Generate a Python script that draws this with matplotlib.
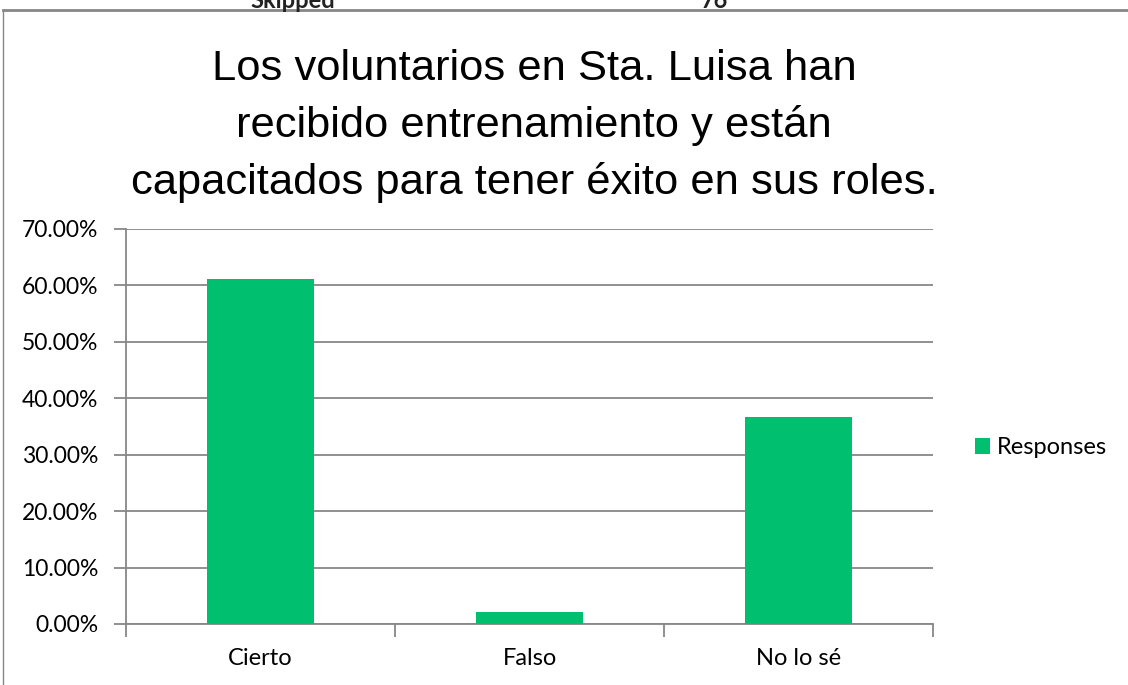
import matplotlib.pyplot as plt
from matplotlib.lines import Line2D
from matplotlib.ticker import FuncFormatter

categories = ['Cierto', 'Falso', 'No lo sé']
responses = [61.1, 2.2, 36.6]
yticks = [0, 10, 20, 30, 40, 50, 60, 70]

green = '#00c06f'
grey = '#878787'

fig = plt.figure(figsize=(11.28, 6.85), dpi=100)
ax = fig.add_axes([0.1117, 0.0891, 0.7155, 0.5766])

x = list(range(len(categories)))
ax.bar(x, responses, width=0.4, color=green, label='Responses', zorder=3)

ax.set_xlim(-0.5, len(categories) - 0.5)
ax.set_ylim(0, 70)
ax.set_yticks(yticks)
ax.yaxis.set_major_formatter(FuncFormatter(lambda v, p: f'{v:.2f}%'))
ax.grid(axis='y', color=grey, linewidth=1.3, zorder=0)

ax.set_xticks([i - 0.5 for i in range(len(categories) + 1)])
ax.set_xticklabels([])
ax.set_xticks(x, minor=True)
ax.set_xticklabels(categories, minor=True)
ax.tick_params(axis='x', which='major', length=9, color=grey, width=1.3, direction='out')
ax.tick_params(axis='x', which='minor', length=0, pad=17, labelsize=17)
ax.tick_params(axis='y', length=9, color=grey, width=1.3, labelsize=16.5, pad=11)
for lab in ax.get_xticklabels(minor=True) + ax.get_yticklabels():
    lab.set_fontfamily('Lato')

for s in ['top', 'right']:
    ax.spines[s].set_visible(False)
ax.spines['left'].set_color(grey)
ax.spines['bottom'].set_color(grey)
ax.spines['left'].set_linewidth(1.3)
ax.spines['bottom'].set_linewidth(1.3)

fig.text(0.4734, 0.8155,
         'Los voluntarios en Sta. Luisa han\nrecibido entrenamiento y están\ncapacitados para tener éxito en sus roles.',
         ha='center', va='center', fontsize=31.3, family='Liberation Sans',
         linespacing=1.5)

leg = fig.legend(loc='center left', bbox_to_anchor=(0.8644, 0.346), frameon=False,
                 prop={'family': 'Lato', 'size': 17}, handlelength=0.64,
                 handleheight=0.64, handletextpad=0.3, borderpad=0,
                 borderaxespad=0)

# clipped header text and chart frame
fig.text(0.222, 1.0, 'Skipped', fontsize=17, fontweight='bold', family='Lato',
         va='center', ha='left', color='#222222')
fig.text(0.621, 1.0, '76', fontsize=17, fontweight='bold', family='Lato',
         va='center', ha='left', color='#222222')
fig.add_artist(Line2D([3 / 1128, 1], [1 - 10 / 685, 1 - 10 / 685], color=grey, linewidth=2))
fig.add_artist(Line2D([3 / 1128, 3 / 1128], [0, 1 - 10 / 685], color=grey, linewidth=1))

fig.savefig('out.png', dpi=100)
